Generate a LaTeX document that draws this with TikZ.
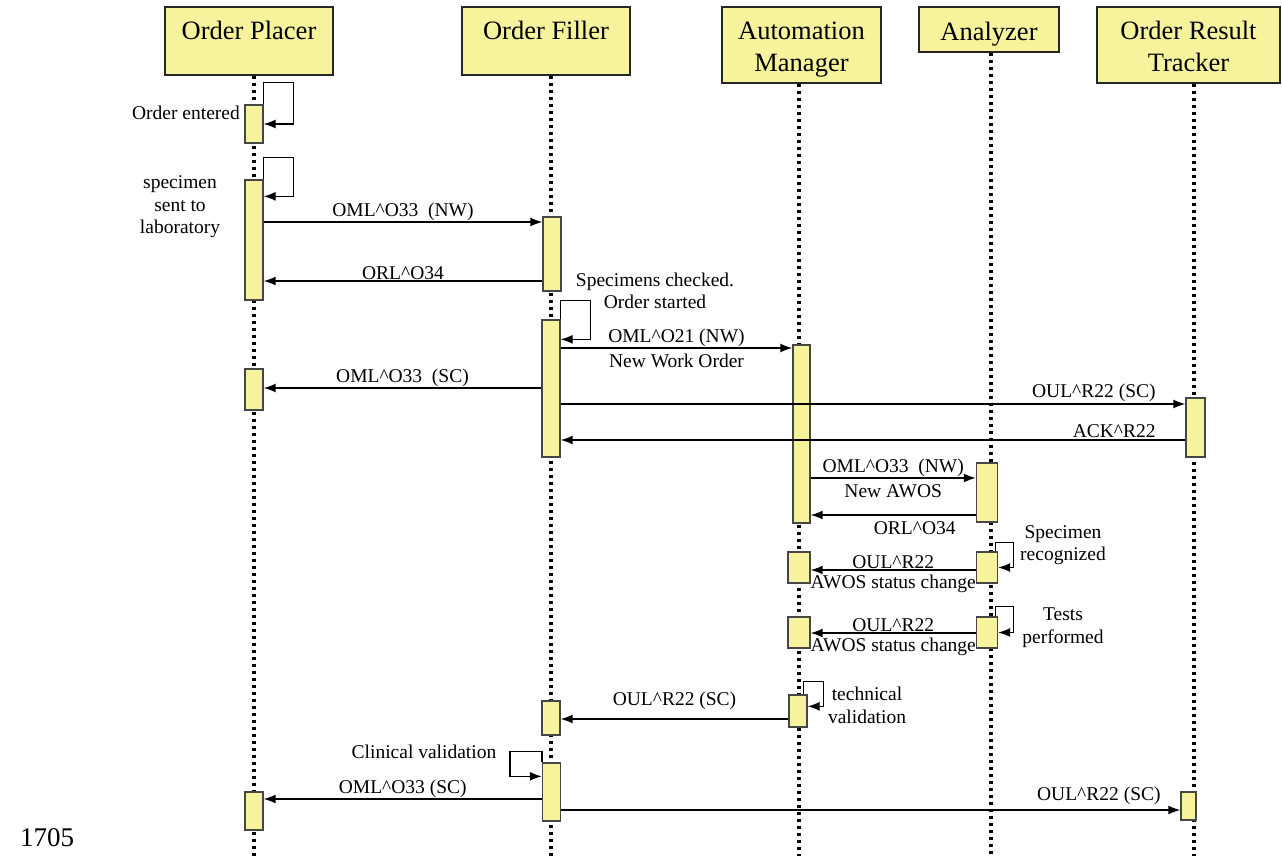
\documentclass[tikz,border=0pt]{standalone}
\usepackage{fontspec}
\setmainfont{Liberation Serif}
\usetikzlibrary{arrows.meta,positioning,backgrounds}
\definecolor{actfill}{RGB}{247,243,156}
\definecolor{actline}{RGB}{70,70,70}

\begin{document}
\begin{tikzpicture}[x=1pt, y=-1pt, >={Latex[length=12pt,width=9pt]}]
    \tikzset{
        actor/.style={draw=black!85, line width=1.4pt, fill=actfill, align=center, inner sep=0pt,
            font=\fontsize{26.5}{32}\selectfont},
        act/.style={draw=actline, line width=1.3pt, fill=actfill, minimum width=18pt, inner sep=0pt},
        lifeline/.style={line width=3.5pt, dash pattern=on 3.5pt off 3.5pt},
        msg/.style={->, line width=1.5pt},
        selfmsg/.style={->, line width=1.3pt},
        lbl/.style={font=\fontsize{19.5}{22.5}\selectfont, inner sep=1pt, align=center}
    }
    \useasboundingbox (0,0) rectangle (1282,856);

    % actors
    \node[actor, minimum width=168pt, minimum height=68pt] (op) at (249,41) {\rule{0pt}{28pt}Order Placer\rule[-30pt]{0pt}{30pt}};
    \node[actor, minimum width=168pt, minimum height=68pt] (of) at (546,41) {\rule{0pt}{28pt}Order Filler\rule[-30pt]{0pt}{30pt}};
    \node[actor, minimum width=159pt, minimum height=76pt] (am) at (801.5,45) {\rule{0pt}{28pt}Automation\\Manager\rule[-6pt]{0pt}{6pt}};
    \node[actor, minimum width=140pt, minimum height=45pt] (an) at (989,29.5) {\rule{0pt}{28pt}Analyzer\rule[-6pt]{0pt}{6pt}};
    \node[actor, minimum width=183pt, minimum height=76pt] (ort) at (1188.5,45) {\rule{0pt}{28pt}Order Result\\Tracker\rule[-6pt]{0pt}{6pt}};

    % activations
    \node[act, minimum height=38pt] (op1) at (254,124) {};
    \node[act, minimum height=120pt] (op2) at (254,240) {};
    \node[act, minimum height=41pt] (op3) at (254,389.5) {};
    \node[act, minimum height=38pt] (op4) at (254,811) {};

    \node[act, minimum height=74pt] (of1) at (552,254) {};
    \node[act, minimum height=137pt] (of2) at (551,388.5) {};
    \node[act, minimum height=34pt] (of3) at (551,718) {};
    \node[act, minimum height=58pt] (of4) at (551.5,792) {};

    \node[act, minimum width=17pt, minimum height=178pt] (am1) at (801.5,434) {};
    \node[act, minimum width=22pt, minimum height=31pt] (am2) at (799,567.5) {};
    \node[act, minimum width=22pt, minimum height=31pt] (am3) at (799,632.5) {};
    \node[act, minimum height=32pt] (am4) at (798,711) {};

    \node[act, minimum width=21pt, minimum height=59pt] (an1) at (987,492.5) {};
    \node[act, minimum width=21pt, minimum height=31pt] (an2) at (987,567.5) {};
    \node[act, minimum width=21pt, minimum height=31pt] (an3) at (987,632.5) {};

    \node[act, minimum width=19pt, minimum height=59pt] (ort1) at (1195.5,427.5) {};
    \node[act, minimum width=15pt, minimum height=28pt] (ort2) at (1188.5,806) {};

    % lifelines
    \begin{pgfonlayer}{background}
        \draw[lifeline] (op.south -| op1) -- (op1 |- 0,856);
        \draw[lifeline] (of.south -| of2) -- (of2 |- 0,856);
        \draw[lifeline] (am.south -| am2) -- (am2 |- 0,856);
        \draw[lifeline] ([xshift=2pt]an.south) -- ([xshift=2pt]an.south |- 0,856);
        \draw[lifeline] (ort.south -| 1194,0) -- (1194,856);
    \end{pgfonlayer}

    % self messages
    \draw[selfmsg] (op1.north east) |- ++(30,-22) |- (op1.east);
    \draw[selfmsg] (op2.north east) |- ++(30,-22) |- ([yshift=-17pt]op2.north east);
    \draw[selfmsg] (of2.north east) |- ++(30,-19) |- ([yshift=-20pt]of2.north east);
    \draw[selfmsg] ([xshift=-3pt]an2.north east) |- ++(18,-9) |- (an2.east);
    \draw[selfmsg] ([xshift=-3pt]an3.north east) |- ++(18,-10) |- (an3.east);
    \draw[selfmsg] ([xshift=-4pt]am4.north east) |- ++(20,-13) |- ([yshift=-12pt]am4.north east);
    \draw[selfmsg] (of4.north west) |- ++(-32,-11) |- ([yshift=-14pt]of4.north west);

    \node[lbl, anchor=east] (t1) at (241,113) {Order entered};
    \node[lbl] (t2) at (180,207) {specimen\\sent to\\laboratory};
    \node[lbl] (t3) at (655,291) {Specimens checked.\\Order started};
    \node[lbl] (t4) at (1063,545) {Specimen\\recognized};
    \node[lbl] (t5) at (1063,627.5) {Tests\\performed};
    \node[lbl] (t6) at (867,705.5) {technical\\validation};
    \node[lbl] (t7) at (424,752) {Clinical validation};

    % messages
    \draw[msg] (op2.east |- 0,222) -- (of1.west |- 0,222) node[lbl, midway, above] (m1) {OML\textasciicircum O33\ \ (NW)};
    \draw[msg] (of1.west |- 0,281) -- (op2.east |- 0,281) node[lbl, midway, above] (m2) {ORL\textasciicircum O34};
    \draw[msg] (of2.east |- 0,348) -- (am1.west |- 0,348)
        node[lbl, midway, above] (m3) {OML\textasciicircum O21 (NW)}
        node[lbl, midway, below=4pt] (m3b) {New Work Order};
    \draw[msg] (of2.west |- 0,388) -- (op3.east |- 0,388) node[lbl, midway, above] (m4) {OML\textasciicircum O33\ \ (SC)};
    \draw[msg] (of2.east |- 0,404) -- (ort1.west |- 0,404) node[lbl, pos=1, above left=1pt and 28pt] (m5) {OUL\textasciicircum R22 (SC)};
    \draw[msg] (ort1.west |- 0,440) -- (of2.east |- 0,440) node[lbl, pos=0, above left=1pt and 28pt] (m6) {ACK\textasciicircum R22};
    \draw[msg] (am1.east |- 0,478) -- (an1.west |- 0,478)
        node[lbl, midway, above] (m7) {OML\textasciicircum O33\ \ (NW)}
        node[lbl, midway, below=5pt] (m7b) {New AWOS};
    \draw[msg] (an1.west |- 0,515) -- (am1.east |- 0,515) node[lbl, pos=0.37, below=5pt] (m8) {ORL\textasciicircum O34};
    \draw[msg] (an2.west |- 0,570) -- (am2.east |- 0,570)
        node[lbl, midway, above] (m9) {OUL\textasciicircum R22}
        node[lbl, midway, below=3pt] (m9b) {AWOS status change};
    \draw[msg] (an3.west |- 0,633) -- (am3.east |- 0,633)
        node[lbl, midway, above] (m10) {OUL\textasciicircum R22}
        node[lbl, midway, below=3pt] (m10b) {AWOS status change};
    \draw[msg] (am4.west |- 0,719) -- (of3.east |- 0,719) node[lbl, midway, above=8pt] (m11) {OUL\textasciicircum R22 (SC)};
    \draw[msg] (of4.west |- 0,799) -- (op4.east |- 0,799) node[lbl, midway, above] (m12) {OML\textasciicircum O33 (SC)};
    \draw[msg] (of4.east |- 0,810) -- (ort2.west |- 0,810) node[lbl, pos=1, above left=4pt and 18pt] (m13) {OUL\textasciicircum R22 (SC)};

    \node[font=\fontsize{27}{31}\selectfont] (fig) at (47,838) {1705};
\end{tikzpicture}
\end{document}
